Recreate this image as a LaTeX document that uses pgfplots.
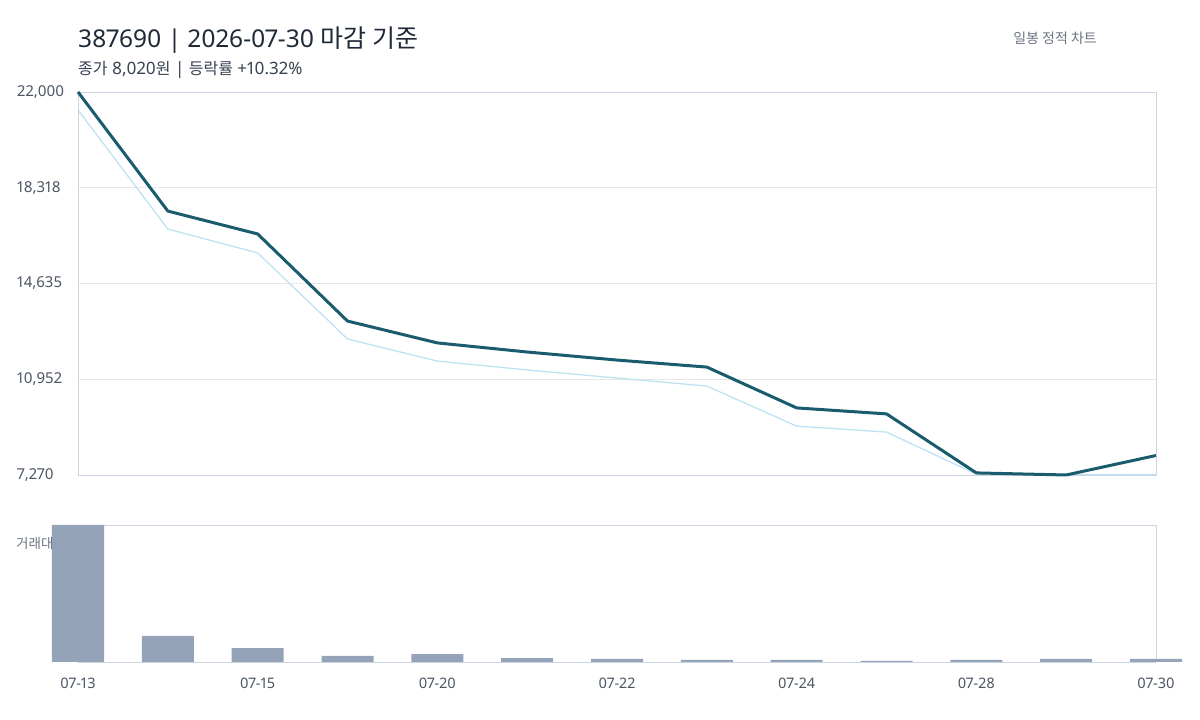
\documentclass[border=0pt]{standalone}
\usepackage{fontspec}
\usepackage{pgfplots}
\pgfplotsset{compat=1.18}
\setmainfont{Noto Sans}[Numbers=Proportional]
\newfontfamily\kr{Noto Sans CJK KR}

\definecolor{priceline}{HTML}{1A5C6E}
\definecolor{lowline}{HTML}{BDE3F2}
\definecolor{volbar}{HTML}{94A3B8}
\definecolor{gridc}{HTML}{E5E7EB}
\definecolor{framec}{HTML}{CBD5E1}
\definecolor{titlec}{HTML}{1F2937}
\definecolor{subc}{HTML}{374151}
\definecolor{tickc}{HTML}{4B5563}
\definecolor{mutedc}{HTML}{6B7280}

% close and low, one row per trading day (index 0..12)
\pgfplotstableread{
i close low
0 22000 21310
1 17420 16730
2 16540 15810
3 13190 12500
4 12350 11650
5 12000 11310
6 11690 11000
7 11420 10690
8 9850 9150
9 9620 8920
10 7350 7300
11 7270 7285
12 8020 7290
}\pricedata

% traded value, relative (max = 100)
\pgfplotstableread{
i vol
0 100
1 19
2 10.2
3 4.4
4 5.8
5 2.9
6 2.2
7 1.5
8 1.5
9 0.8
10 1.5
11 2.2
12 2.2
}\voldata

\begin{document}
\begin{tikzpicture}[x=1pt,y=1pt]
  \path[use as bounding box] (0,0) rectangle (1200,720);

  % header
  \node[anchor=base west, inner sep=0, text=titlec,
        font=\fontsize{24.5}{29}\selectfont] at (78,672.5)
        {387690 | 2026-07-30 {\kr\fontsize{25}{29}\selectfont 마감 기준}};
  \node[anchor=base west, inner sep=0, text=subc,
        font=\fontsize{17}{20}\selectfont] at (78,645.5)
        {{\kr\fontsize{16}{20}\selectfont 종가} 8,020{\kr\fontsize{16}{20}\selectfont 원} | {\kr\fontsize{16}{20}\selectfont 등락률} +10.32\%};
  \node[anchor=east, inner sep=0, text=mutedc,
        font=\kr\fontsize{14}{17}\selectfont] at (1097,682)
        {일봉 정적 차트};

  % volume label (bar is drawn over it)
  \node[anchor=west, inner sep=0, text=mutedc,
        font=\kr\fontsize{13.5}{16}\selectfont] at (16,177) {거래대금};

  % price panel
  \begin{axis}[
      at={(78pt,245pt)}, anchor=south west,
      scale only axis, width=1078pt, height=383pt,
      xmin=0, xmax=12, ymin=7270, ymax=22000,
      clip=false,
      scaled y ticks=false,
      xtick=\empty,
      ytick={7270,10952.5,14635,18317.5,22000},
      yticklabels={{7,270},{10,952},{14,635},{18,318},{22,000}},
      /pgf/number format/assume math mode=true,
      yticklabel style={text=tickc, font=\fontsize{15}{18}\selectfont,
                        anchor=west, inner sep=0pt, xshift=-61pt},
      ymajorgrids, major grid style={gridc, line width=0.8pt},
      major tick length=0pt,
      axis line style={framec, line width=0.8pt},
    ]
    \addplot[lowline, line width=1.3pt] table[x=i, y=low] {\pricedata};
    \addplot[priceline, line width=3pt, line join=round] table[x=i, y=close] {\pricedata};
  \end{axis}

  % volume panel
  \begin{axis}[
      at={(78pt,58pt)}, anchor=south west,
      scale only axis, width=1078pt, height=137pt,
      xmin=0, xmax=12, ymin=0, ymax=100,
      clip=false,
      axis x line*=box, axis y line*=right,
      ytick=\empty,
      xtick={0,2,4,6,8,10,12},
      xticklabels={07-13,07-15,07-20,07-22,07-24,07-28,07-30},
      /pgf/number format/assume math mode=true,
      xticklabel style={text=tickc, font=\fontsize{14.5}{17}\selectfont, yshift=-12pt},
      major tick length=0pt,
      axis line style={framec, line width=0.8pt},
    ]
    \addplot[ybar, bar width=52pt, fill=volbar, draw=none] table[x=i, y=vol] {\voldata};
  \end{axis}
\end{tikzpicture}
\end{document}
